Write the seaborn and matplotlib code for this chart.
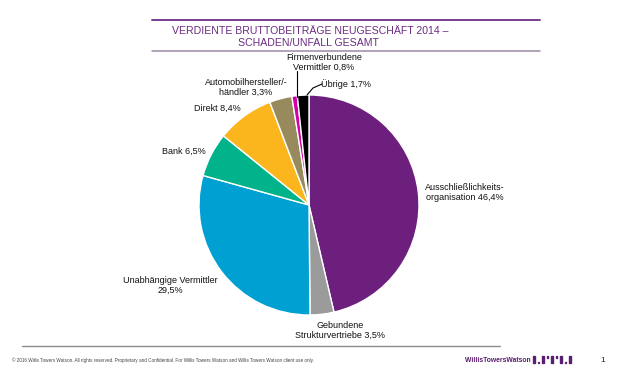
import matplotlib
matplotlib.use("Agg")
import matplotlib.pyplot as plt
import seaborn as sns
from matplotlib.lines import Line2D
from matplotlib.patches import Rectangle

sns.set_theme(style="white")
plt.rcParams['font.family'] = ['Liberation Sans', 'DejaVu Sans']

# ---- data ----
categories = ["Ausschließlichkeits-\norganisation", "Gebundene\nStrukturvertriebe",
              "Unabhängige Vermittler\n", "Bank", "Direkt",
              "Automobilhersteller/-\nhändler", "Firmenverbundene\nVermittler", "Übrige"]
values = [46.4, 3.5, 29.5, 6.5, 8.4, 3.3, 0.8, 1.7]
value_labels = ["46,4%", "3,5%", "29,5%", "6,5%", "8,4%", "3,3%", "0,8%", "1,7%"]
colors = ["#6C1F7D", "#9B9B9B", "#00A0D2", "#00B38A", "#FBB51D", "#978B5D", "#D100A8", "#000000"]
title_lines = ["VERDIENTE BRUTTOBEITRÄGE NEUGESCHÄFT 2014 –", "SCHADEN/UNFALL GESAMT"]

W, H = 621, 383
fig = plt.figure(figsize=(W / 100, H / 100), dpi=100)

# pie axes: pixel-based data coordinates, 1 unit = radius
cx, cy, R = 309, 205, 110
ax = fig.add_axes([0, 0, 1, 1])
ax.axis("off")

wedges, _ = ax.pie(values, colors=colors, startangle=90, counterclock=False,
                   radius=1, center=(0, 0),
                   wedgeprops=dict(edgecolor="white", linewidth=1.0))
ax.set_aspect("equal")
ax.set_xlim(-cx / R, (W - cx) / R)
ax.set_ylim(-(H - cy) / R, cy / R)

def P(px, py):
    return ((px - cx) / R, (cy - py) / R)

label_px = [(465, 192.5), (340, 330), (170, 285.5), (184, 151), (217, 108),
            (246, 87), (324, 62.5), (346, 84)]
for cat, vl, (px, py) in zip(categories, value_labels, label_px):
    s = cat + vl if cat.endswith("\n") else cat + " " + vl
    x, y = P(px, py)
    ax.text(x, y, s, ha="center", va="center", fontsize=6.5, color="#111111",
            linespacing=1.1)

# leader lines
x1, y1 = P(296.5, 71); x2, y2 = P(296.5, 97)
ax.add_line(Line2D([x1, x2], [y1, y2], color="black", lw=0.8))
xa, ya = P(322, 84); xb, yb = P(313, 88); xc, yc = P(307, 95)
ax.add_line(Line2D([xa, xb, xc], [ya, yb, yc], color="black", lw=0.8))

# title and rules
def fx(px): return px / W
def fy(py): return 1 - py / H

fig.add_artist(Line2D([fx(152), fx(540)], [fy(20), fy(20)], color="#7A3C8E", lw=1.4))
fig.add_artist(Line2D([fx(152), fx(540)], [fy(50.5), fy(50.5)], color="#9A8AA2", lw=1.1))
fig.text(fx(310), fy(30.5), title_lines[0], ha="center", va="center", fontsize=7.6, color="#6C2C82")
fig.text(fx(309), fy(43.5), title_lines[1], ha="center", va="center", fontsize=7.6, color="#6C2C82")

# footer
fig.add_artist(Line2D([fx(22), fx(500)], [fy(345.5), fy(345.5)], color="#8C8C8C", lw=1.0))
fig.text(fx(12), fy(360), "© 2016 Willis Towers Watson. All rights reserved. Proprietary and Confidential. "
         "For Willis Towers Watson and Willis Towers Watson client use only.",
         ha="left", va="center", fontsize=3.3, color="#444444")
fig.text(fx(465), fy(360), "WillisTowersWatson", ha="left", va="center", fontsize=4.9,
         color="#5A1F6E", fontweight="bold")
# simple logo bars
bars = [(533, 356, 1.5, 7), (537.5, 361.5, 1.5, 1.5), (542, 356, 1.5, 7), (546.5, 356, 1.5, 2),
        (551, 356, 1.5, 7), (555.5, 356, 1.5, 2), (560, 356, 1.5, 7), (564.5, 361.5, 1.5, 1.5),
        (569, 356, 1.5, 7)]
for bx, by, bw, bh in bars:
    fig.add_artist(Rectangle((fx(bx), fy(by + bh)), bw / W, bh / H, color="#5A1F6E",
                             transform=fig.transFigure))
fig.text(fx(603), fy(360), "1", ha="center", va="center", fontsize=6.0, color="#222222")

fig.savefig("out.png", dpi=100)
